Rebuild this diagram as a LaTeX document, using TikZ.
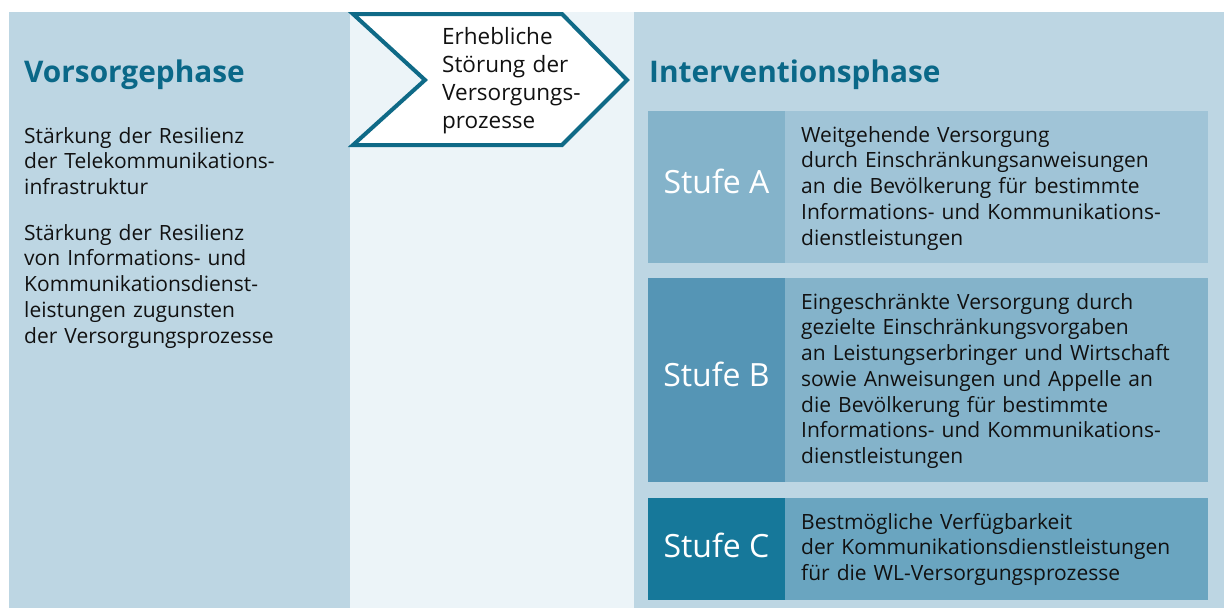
\documentclass[tikz,border=0pt]{standalone}
\usepackage{fontspec}
\setmainfont{Open Sans}
\definecolor{panel}{HTML}{BDD6E3}
\definecolor{midbg}{HTML}{ECF4F8}
\definecolor{titleblue}{HTML}{0A6888}
\definecolor{arrowline}{HTML}{0F6A87}
\definecolor{aL}{HTML}{84B3CA}
\definecolor{aR}{HTML}{A0C4D7}
\definecolor{bL}{HTML}{5595B5}
\definecolor{bR}{HTML}{84B3CA}
\definecolor{cL}{HTML}{16789A}
\definecolor{cR}{HTML}{6AA5C0}
\definecolor{ink}{HTML}{111111}
\tikzset{
  body/.style={anchor=base west,inner sep=0pt,align=left,text=ink,text width=420pt,
    font=\fontsize{21}{25.75}\selectfont},
  ttl/.style={anchor=base west,inner sep=0pt,text=titleblue,
    font=\fontsize{29.8}{32}\selectfont\bfseries},
  stufe/.style={anchor=base,inner sep=0pt,text=white,
    font=\fontsize{32}{34}\selectfont},
}
\begin{document}
\begin{tikzpicture}[x=1pt,y=-1pt]
\useasboundingbox (0,0) rectangle (1224,608);
\fill[white] (0,0) rectangle (1224,608);
% panels
\fill[panel] (9,12) rectangle (350,608);
\fill[midbg] (350,12) rectangle (634,608);
\fill[panel] (634,12) rectangle (1224,608);
% arrow
\draw[arrowline,line width=4pt,fill=white,line join=miter]
  (353,14) -- (562,14) -- (627,80) -- (562,145) -- (353,145) -- (425,80) -- cycle;
\node[body,text width=180pt,font=\fontsize{22.5}{28}\selectfont] (arr) at (442,44)
  {Erhebliche\\Störung der\\Versorgungs-\\prozesse};
% titles
\node[ttl] (vt) at (24,82) {Vorsorgephase};
\node[ttl] (it) at (649,82) {Interventionsphase};
% left text
\node[body] (v1) at (24,143) {Stärkung der Resilienz\\der Telekommunikations-\\infrastruktur};
\node[body] (v2) at (24,240) {Stärkung der Resilienz\\von Informations- und\\Kommunikationsdienst-\\leistungen zugunsten\\der Versorgungsprozesse};
% Stufe A
\fill[aL] (648,111) rectangle (785,263);
\fill[aR] (785,111) rectangle (1208,263);
\node[stufe] (sa) at (716.5,193) {Stufe A};
\node[body] (ta) at (801,142) {Weitgehende Versorgung\\durch Einschränkungsanweisungen\\an die Bevölkerung für bestimmte\\Informations- und Kommunikations-\\dienstleistungen};
% Stufe B
\fill[bL] (648,278) rectangle (785,482);
\fill[bR] (785,278) rectangle (1208,482);
\node[stufe] (sb) at (716.5,386) {Stufe B};
\node[body] (tb) at (801,309) {Eingeschränkte Versorgung durch\\gezielte Einschränkungsvorgaben\\an Leistungserbringer und Wirtschaft\\sowie Anweisungen und Appelle an\\die Bevölkerung für bestimmte\\Informations- und Kommunikations-\\dienstleistungen};
% Stufe C
\fill[cL] (648,498) rectangle (785,600);
\fill[cR] (785,498) rectangle (1208,600);
\node[stufe] (sc) at (716.5,557) {Stufe C};
\node[body] (tc) at (801,529) {Bestmögliche Verfügbarkeit\\der Kommunikationsdienstleistungen\\für die WL-Versorgungsprozesse};
\end{tikzpicture}
\end{document}
